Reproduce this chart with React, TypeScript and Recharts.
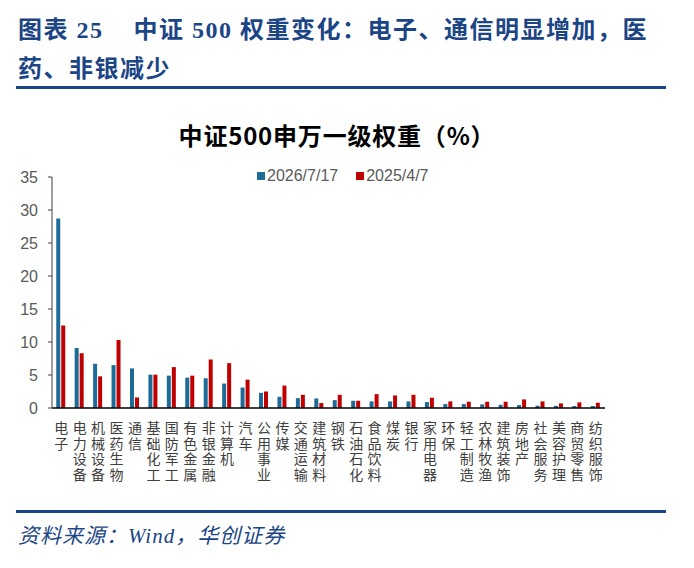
import { Bar, BarChart, Legend, XAxis, YAxis } from "recharts";

const CATEGORIES = [
  "电子", "电力设备", "机械设备", "医药生物", "通信", "基础化工", "国防军工", "有色金属",
  "非银金融", "计算机", "汽车", "公用事业", "传媒", "交通运输", "建筑材料", "钢铁",
  "石油石化", "食品饮料", "煤炭", "银行", "家用电器", "环保", "轻工制造", "农林牧渔",
  "建筑装饰", "房地产", "社会服务", "美容护理", "商贸零售", "纺织服饰",
];

const WEIGHT_2026 = [
  28.7, 9.1, 6.7, 6.5, 6.0, 5.05, 4.9, 4.6, 4.5, 3.7, 3.1, 2.3, 1.7, 1.5, 1.45, 1.2,
  1.1, 1.0, 1.0, 1.0, 0.9, 0.6, 0.6, 0.55, 0.5, 0.45, 0.35, 0.33, 0.3, 0.3,
];

const WEIGHT_2025 = [
  12.5, 8.3, 4.8, 10.3, 1.6, 5.05, 6.2, 4.9, 7.35, 6.8, 4.3, 2.5, 3.4, 2.0, 0.75, 2.0,
  1.1, 2.1, 1.9, 2.0, 1.55, 1.0, 0.95, 0.95, 0.95, 1.3, 1.0, 0.7, 0.85, 0.8,
];

const Y_TICKS = [0, 5, 10, 15, 20, 25, 30, 35];

const data = CATEGORIES.map((name, i) => ({
  name,
  s1: WEIGHT_2026[i],
  s2: WEIGHT_2025[i],
}));

const NAVY = "#1b4585";
const CJK = '"Noto Sans CJK SC", sans-serif';
const ARIAL = '"Liberation Sans", Arial, sans-serif';

function CategoryTick({ x, y, payload }: any) {
  const chars = String(payload.value).split("");
  return (
    <g>
      {chars.map((c, i) => (
        <text
          key={i}
          x={x}
          y={y + 19 + i * 15.7}
          textAnchor="middle"
          fill="#404040"
          fontSize={14}
          fontFamily={CJK}
        >
          {c}
        </text>
      ))}
    </g>
  );
}

function LegendContent({ payload }: any) {
  const items = [...(payload ?? [])].sort((a: any, b: any) =>
    String(a.dataKey).localeCompare(String(b.dataKey))
  );
  return (
    <div style={{ display: "flex", alignItems: "center", fontFamily: ARIAL, fontSize: 16, color: "#595959" }}>
      {items.map((item: any) => (
        <span key={item.dataKey} style={{ display: "flex", alignItems: "center", marginRight: 18 }}>
          <span style={{ width: 8, height: 8, background: item.color, marginRight: 2 }} />
          {item.value}
        </span>
      ))}
    </div>
  );
}

export default function App() {
  return (
    <div
      style={{
        position: "absolute",
        left: 0,
        top: 0,
        width: 694,
        height: 568,
        background: "#fff",
        fontFamily: CJK,
      }}
    >
      <div
        style={{
          position: "absolute",
          left: 18,
          top: 11,
          color: NAVY,
          fontWeight: 700,
          fontSize: 24,
          letterSpacing: 1.5,
          lineHeight: "39px",
          whiteSpace: "nowrap",
          fontFamily: `"Liberation Serif", ${CJK}`,
        }}
      >
        <div>图表 25&nbsp;&nbsp;&nbsp;&nbsp;中证 500 权重变化：电子、通信明显增加，医</div>
        <div>药、非银减少</div>
      </div>
      <div style={{ position: "absolute", left: 16, top: 86, width: 650, height: 3, background: NAVY }} />

      <div
        style={{
          position: "absolute",
          left: 0,
          width: 674,
          top: 119,
          textAlign: "center",
          fontSize: 24,
          fontWeight: 700,
          letterSpacing: 0.8,
          color: "#000",
          lineHeight: "32px",
        }}
      >
        中证500申万一级权重（%）
      </div>

      <div style={{ position: "absolute", left: 0, top: 0 }}>
        <BarChart
          width={694}
          height={568}
          data={data}
          margin={{ top: 159, right: 89, bottom: 80, left: 22 }}
          barCategoryGap="23%"
          barGap={1}
        >
          <XAxis
            dataKey="name"
            interval={0}
            tickLine={false}
            tickMargin={0}
            height={80}
            axisLine={{ stroke: "#000", strokeWidth: 1.5 }}
            tick={<CategoryTick />}
          />
          <YAxis
            domain={[0, 35]}
            ticks={Y_TICKS}
            width={30}
            tickSize={4}
            tickMargin={10}
            interval={0}
            axisLine={{ stroke: "#404040" }}
            tickLine={{ stroke: "#404040" }}
            tick={{ fontSize: 16, fill: "#595959", fontFamily: ARIAL }}
          />
          <Legend
            verticalAlign="top"
            align="left"
            wrapperStyle={{ top: 167, left: 257, width: "auto" }}
            content={<LegendContent />}
          />
          <Bar dataKey="s1" name="2026/7/17" fill="#1f6b97" isAnimationActive={false} />
          <Bar dataKey="s2" name="2025/4/7" fill="#c00000" isAnimationActive={false} />
        </BarChart>
      </div>

      <div style={{ position: "absolute", left: 16, top: 510, width: 650, height: 3, background: NAVY }} />
      <div
        style={{
          position: "absolute",
          left: 18,
          top: 522,
          fontSize: 21,
          letterSpacing: 1,
          fontStyle: "italic",
          color: NAVY,
          lineHeight: "28px",
          fontFamily: `"Liberation Serif", ${CJK}`,
        }}
      >
        资料来源：Wind，华创证券
      </div>
    </div>
  );
}
